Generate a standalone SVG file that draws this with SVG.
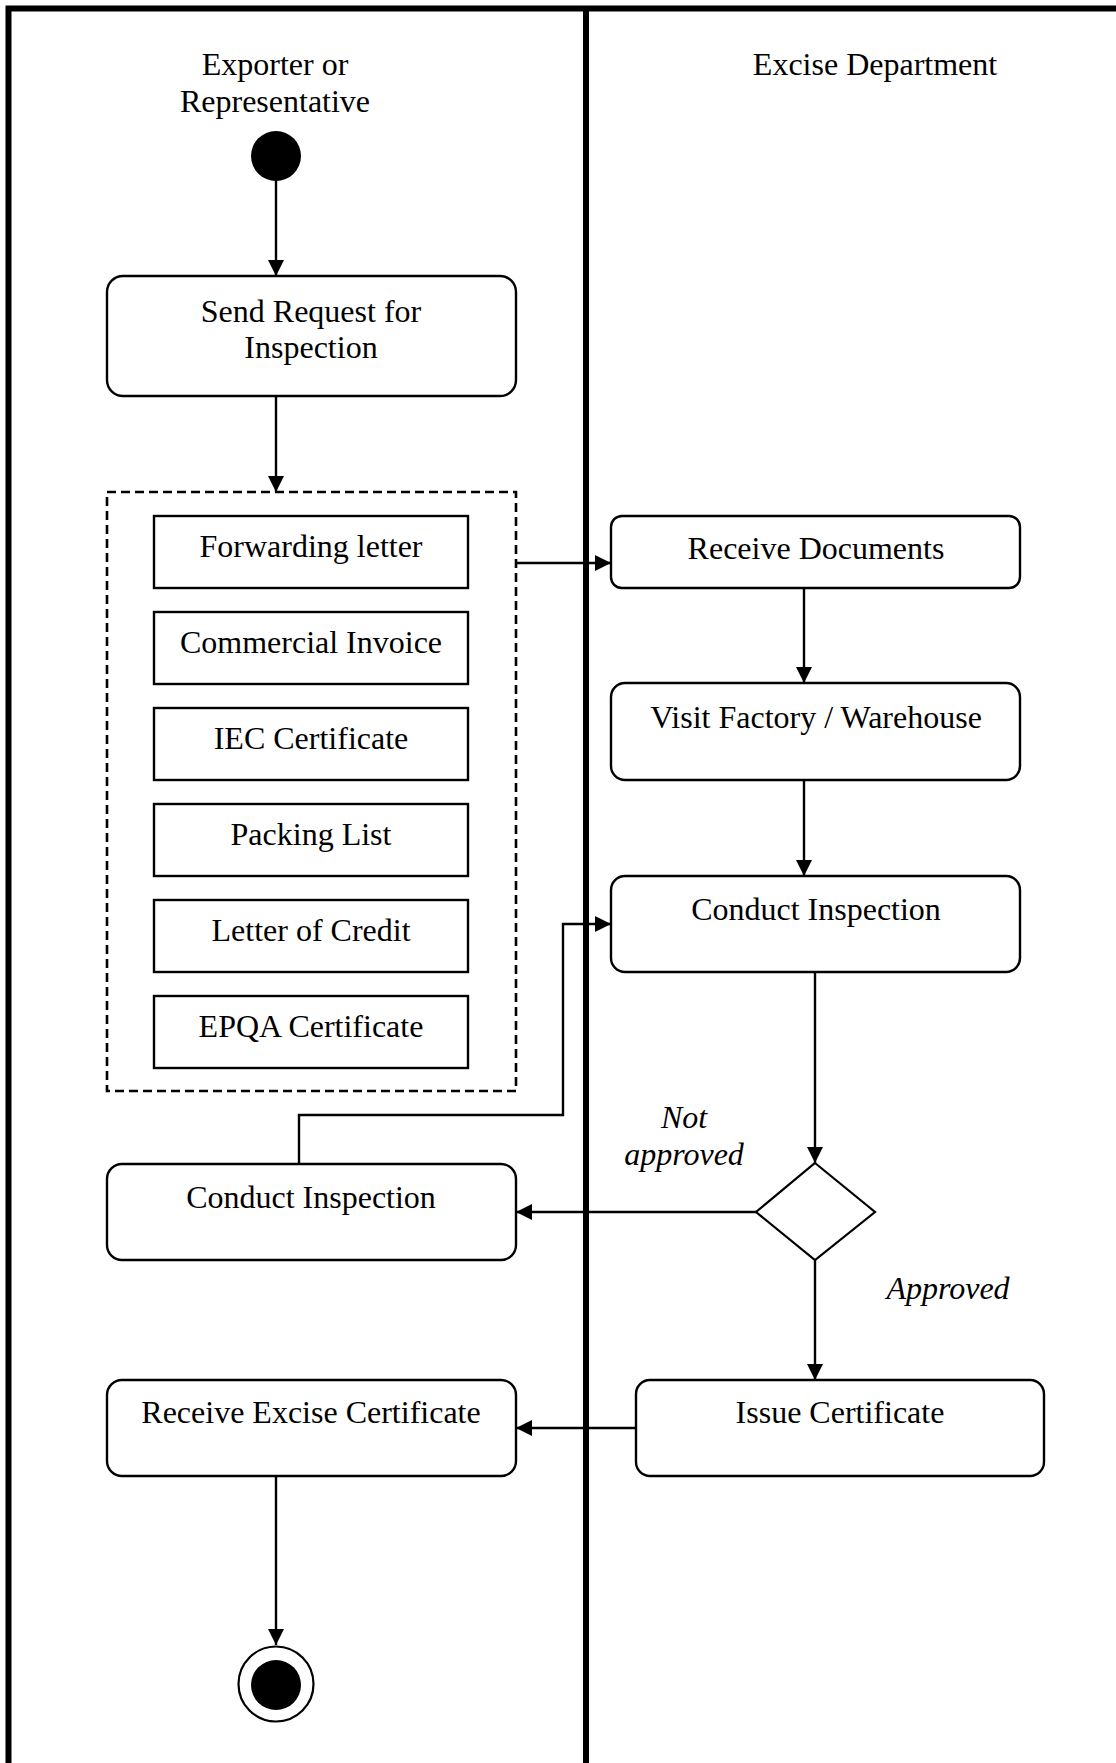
<svg xmlns="http://www.w3.org/2000/svg" width="1116" height="1763" viewBox="0 0 1116 1763">
  <style>
    .t { font-family: "Liberation Serif", "Times New Roman", serif; font-size: 32px; text-anchor: middle; fill: #000; }
    .i { font-style: italic; }
    .act { fill: #fff; stroke: #000; stroke-width: 2.4; }
    .doc { fill: #fff; stroke: #000; stroke-width: 2.4; }
    .edge { fill: none; stroke: #000; stroke-width: 2.4; }
    .lane { fill: none; stroke: #000; stroke-width: 6; }
  </style>
  <defs>
    <marker id="arrow" viewBox="0 0 17 17" markerWidth="17" markerHeight="17" refX="16" refY="8.5" orient="auto" markerUnits="userSpaceOnUse">
      <path d="M0,0.5 L16,8.5 L0,16.5 z" fill="#000"/>
    </marker>
  </defs>

  <rect width="1116" height="1763" fill="#fff"/>

  <!-- swimlane frame -->
  <g id="lanes">
    <rect class="lane" x="8.5" y="8.5" width="1200" height="1900"/>
    <line class="lane" x1="586" y1="8.5" x2="586" y2="1763"/>
    <text class="t" x="275" y="75">Exporter or</text>
    <text class="t" x="275" y="112">Representative</text>
    <text class="t" x="875" y="75">Excise Department</text>
  </g>

  <!-- connectors -->
  <g id="connectors">
    <path class="edge" d="M276,181 V276" marker-end="url(#arrow)"/>
    <path class="edge" d="M276,396 V492" marker-end="url(#arrow)"/>
    <path class="edge" d="M516,563 H611" marker-end="url(#arrow)"/>
    <path class="edge" d="M804,588 V683" marker-end="url(#arrow)"/>
    <path class="edge" d="M804,780 V876" marker-end="url(#arrow)"/>
    <path class="edge" d="M815,972 V1163" marker-end="url(#arrow)"/>
    <path class="edge" d="M756,1212 H516" marker-end="url(#arrow)"/>
    <path class="edge" d="M299,1164 V1115 H563 V924 H611" marker-end="url(#arrow)"/>
    <path class="edge" d="M815,1260 V1380" marker-end="url(#arrow)"/>
    <path class="edge" d="M636,1428 H516" marker-end="url(#arrow)"/>
    <path class="edge" d="M276,1476 V1645" marker-end="url(#arrow)"/>
    <text class="t i" x="684" y="1128">Not</text>
    <text class="t i" x="684" y="1165">approved</text>
    <text class="t i" x="948" y="1299">Approved</text>
  </g>

  <!-- exporter lane -->
  <g id="start">
    <circle cx="276" cy="156" r="25" fill="#000"/>
  </g>

  <g id="send-request">
    <rect class="act" x="107" y="276" width="409" height="120" rx="16"/>
    <text class="t" x="311" y="322">Send Request for</text>
    <text class="t" x="311" y="358">Inspection</text>
  </g>

  <g id="documents">
    <rect x="107" y="492" width="409" height="599" fill="none" stroke="#000" stroke-width="2.6" stroke-dasharray="9,5"/>
    <g id="doc-forwarding">
      <rect class="doc" x="154" y="516" width="314" height="72"/>
      <text class="t" x="311" y="557">Forwarding letter</text>
    </g>
    <g id="doc-invoice">
      <rect class="doc" x="154" y="612" width="314" height="72"/>
      <text class="t" x="311" y="653">Commercial Invoice</text>
    </g>
    <g id="doc-iec">
      <rect class="doc" x="154" y="708" width="314" height="72"/>
      <text class="t" x="311" y="749">IEC Certificate</text>
    </g>
    <g id="doc-packing">
      <rect class="doc" x="154" y="804" width="314" height="72"/>
      <text class="t" x="311" y="845">Packing List</text>
    </g>
    <g id="doc-credit">
      <rect class="doc" x="154" y="900" width="314" height="72"/>
      <text class="t" x="311" y="941">Letter of Credit</text>
    </g>
    <g id="doc-epqa">
      <rect class="doc" x="154" y="996" width="314" height="72"/>
      <text class="t" x="311" y="1037">EPQA Certificate</text>
    </g>
  </g>

  <g id="conduct-inspection-exporter">
    <rect class="act" x="107" y="1164" width="409" height="96" rx="15"/>
    <text class="t" x="311" y="1208">Conduct Inspection</text>
  </g>

  <g id="receive-certificate">
    <rect class="act" x="107" y="1380" width="409" height="96" rx="15"/>
    <text class="t" x="311" y="1423">Receive Excise Certificate</text>
  </g>

  <g id="end">
    <circle cx="276" cy="1684" r="37.5" fill="#fff" stroke="#000" stroke-width="2.2"/>
    <circle cx="276" cy="1685" r="25" fill="#000"/>
  </g>

  <!-- excise lane -->
  <g id="receive-documents">
    <rect class="act" x="611" y="516" width="409" height="72" rx="11"/>
    <text class="t" x="816" y="559">Receive Documents</text>
  </g>

  <g id="visit-factory">
    <rect class="act" x="611" y="683" width="409" height="97" rx="14"/>
    <text class="t" x="816" y="728">Visit Factory / Warehouse</text>
  </g>

  <g id="conduct-inspection-excise">
    <rect class="act" x="611" y="876" width="409" height="96" rx="14"/>
    <text class="t" x="816" y="920">Conduct Inspection</text>
  </g>

  <g id="decision">
    <polygon points="815,1163 875,1212 815,1260 756,1212" fill="#fff" stroke="#000" stroke-width="2.2"/>
  </g>

  <g id="issue-certificate">
    <rect class="act" x="636" y="1380" width="408" height="96" rx="14"/>
    <text class="t" x="840" y="1423">Issue Certificate</text>
  </g>
</svg>
